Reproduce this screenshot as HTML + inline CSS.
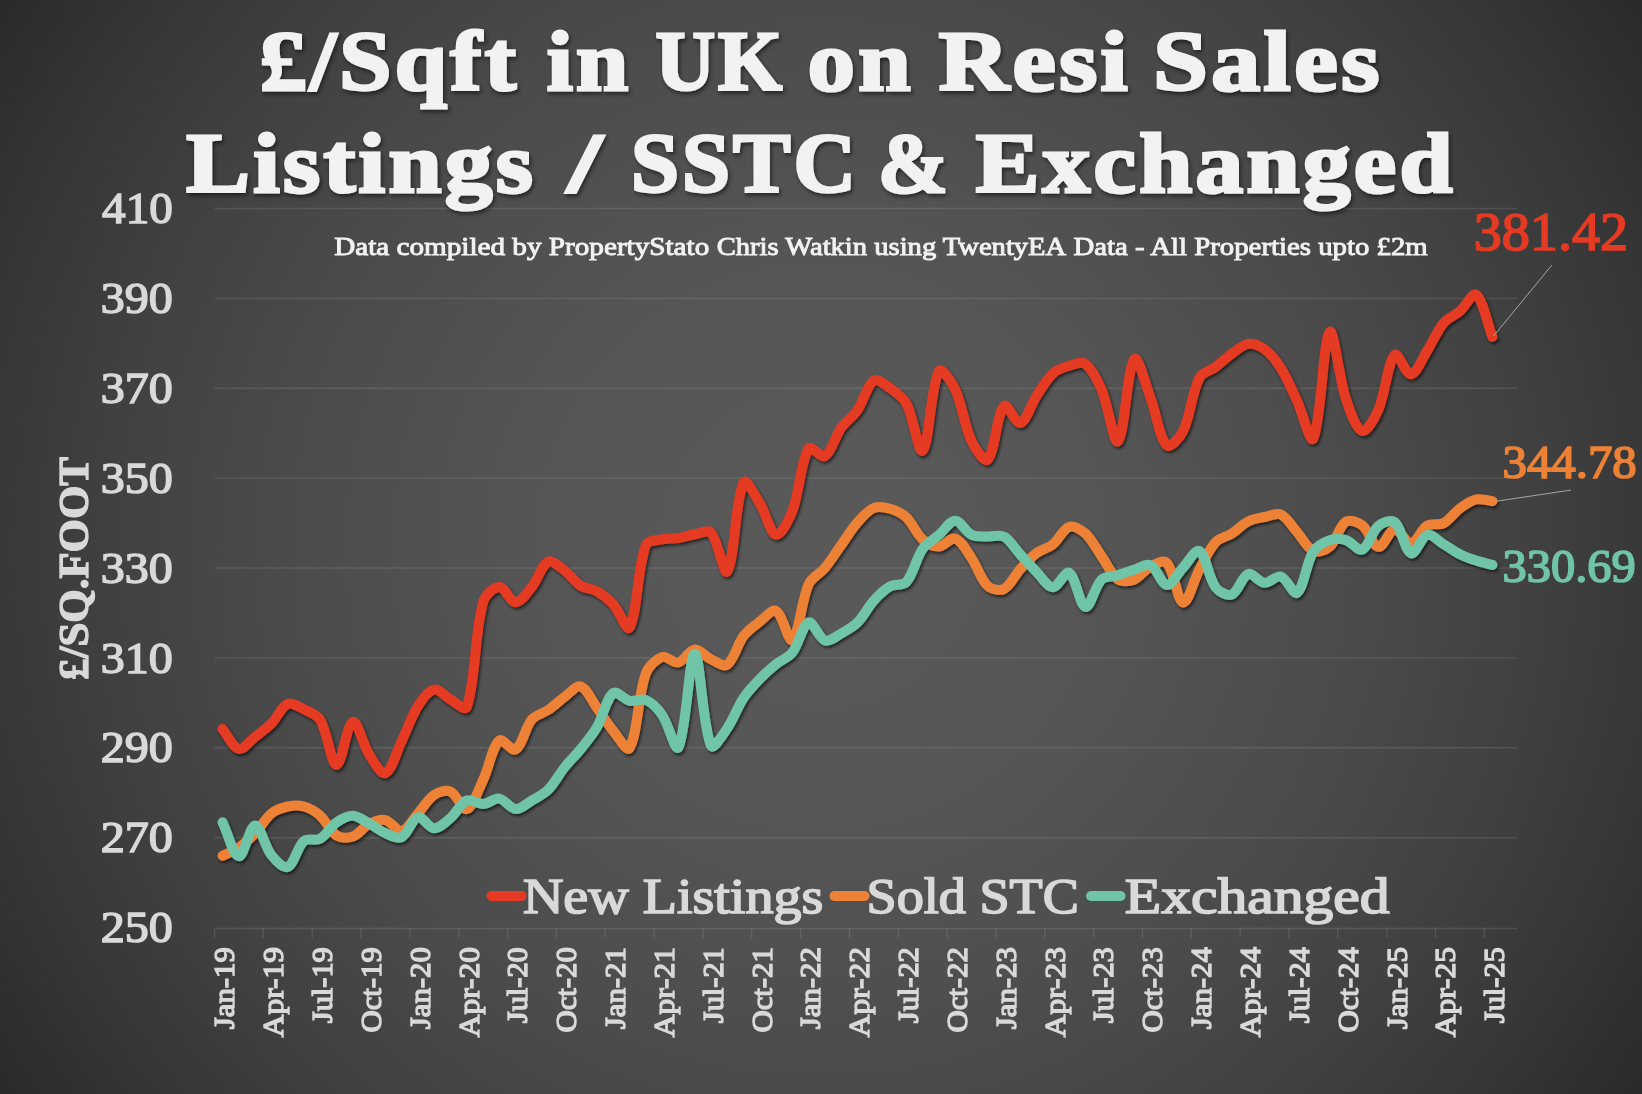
<!DOCTYPE html>
<html lang="en"><head><meta charset="utf-8"><title>£/Sqft in UK on Resi Sales</title>
<style>
html,body{margin:0;padding:0;background:#2a2a2a;}
body{width:1642px;height:1094px;overflow:hidden;font-family:"Liberation Serif",serif;}
svg{display:block;}
text{font-family:"Liberation Serif",serif;}
svg{opacity:0.9999;}
.ttl{font-weight:bold;fill:#F2F2F2;stroke:#F2F2F2;stroke-width:3px;stroke-linejoin:miter;stroke-miterlimit:2.5;letter-spacing:3px;filter:url(#tsh);}
.sub{fill:#F2F2F2;stroke:#F2F2F2;stroke-width:0.9px;}
.yl{fill:#D9D9D9;stroke:#D9D9D9;stroke-width:1.5px;}
.dl{stroke-width:1.7px;}
.xl{fill:#D9D9D9;font-size:30px;text-anchor:end;stroke:#D9D9D9;stroke-width:1.4px;}
.lg{fill:#D9D9D9;stroke:#D9D9D9;stroke-width:1.7px;}
.ln{fill:none;stroke-width:10.0;stroke-linecap:round;stroke-linejoin:round;}
</style></head><body>
<svg width="1642" height="1094" viewBox="0 0 1642 1094">
<defs>
<radialGradient id="bg" gradientUnits="userSpaceOnUse" cx="821" cy="547" r="986.5">
<stop offset="0.00" stop-color="rgb(89,89,89)"/>
<stop offset="0.10" stop-color="rgb(89,89,89)"/>
<stop offset="0.20" stop-color="rgb(87,87,87)"/>
<stop offset="0.30" stop-color="rgb(85,85,85)"/>
<stop offset="0.40" stop-color="rgb(81,81,81)"/>
<stop offset="0.50" stop-color="rgb(77,77,77)"/>
<stop offset="0.60" stop-color="rgb(72,72,72)"/>
<stop offset="0.70" stop-color="rgb(66,66,66)"/>
<stop offset="0.80" stop-color="rgb(59,59,59)"/>
<stop offset="0.90" stop-color="rgb(51,51,51)"/>
<stop offset="1.00" stop-color="rgb(42,42,42)"/>
</radialGradient>
<filter id="sh" x="-5%" y="-5%" width="110%" height="115%"><feDropShadow dx="1.5" dy="2.2" stdDeviation="1.6" flood-color="#000" flood-opacity="0.6"/></filter>
<filter id="tsh" x="-5%" y="-20%" width="110%" height="150%"><feDropShadow dx="1.5" dy="2.5" stdDeviation="2" flood-color="#000" flood-opacity="0.55"/></filter>
</defs>
<rect x="0" y="0" width="1642" height="1094" fill="url(#bg)"/>
<g stroke="#ffffff" stroke-opacity="0.10" stroke-width="1.4" fill="none">
<line x1="214.5" y1="208.5" x2="1517.5" y2="208.5"/>
<line x1="214.5" y1="298.4" x2="1517.5" y2="298.4"/>
<line x1="214.5" y1="388.3" x2="1517.5" y2="388.3"/>
<line x1="214.5" y1="478.1" x2="1517.5" y2="478.1"/>
<line x1="214.5" y1="568.0" x2="1517.5" y2="568.0"/>
<line x1="214.5" y1="657.9" x2="1517.5" y2="657.9"/>
<line x1="214.5" y1="747.8" x2="1517.5" y2="747.8"/>
<line x1="214.5" y1="837.7" x2="1517.5" y2="837.7"/>
</g>
<g stroke="#ffffff" stroke-opacity="0.11" stroke-width="1.4" fill="none">
<line x1="214.5" y1="928.5" x2="1517.5" y2="928.5"/>
<line x1="214.5" y1="928.5" x2="214.5" y2="937.8"/>
<line x1="263.3" y1="928.5" x2="263.3" y2="937.8"/>
<line x1="312.2" y1="928.5" x2="312.2" y2="937.8"/>
<line x1="361.0" y1="928.5" x2="361.0" y2="937.8"/>
<line x1="409.9" y1="928.5" x2="409.9" y2="937.8"/>
<line x1="458.7" y1="928.5" x2="458.7" y2="937.8"/>
<line x1="507.5" y1="928.5" x2="507.5" y2="937.8"/>
<line x1="556.4" y1="928.5" x2="556.4" y2="937.8"/>
<line x1="605.2" y1="928.5" x2="605.2" y2="937.8"/>
<line x1="654.1" y1="928.5" x2="654.1" y2="937.8"/>
<line x1="702.9" y1="928.5" x2="702.9" y2="937.8"/>
<line x1="751.7" y1="928.5" x2="751.7" y2="937.8"/>
<line x1="800.6" y1="928.5" x2="800.6" y2="937.8"/>
<line x1="849.4" y1="928.5" x2="849.4" y2="937.8"/>
<line x1="898.3" y1="928.5" x2="898.3" y2="937.8"/>
<line x1="947.1" y1="928.5" x2="947.1" y2="937.8"/>
<line x1="995.9" y1="928.5" x2="995.9" y2="937.8"/>
<line x1="1044.8" y1="928.5" x2="1044.8" y2="937.8"/>
<line x1="1093.6" y1="928.5" x2="1093.6" y2="937.8"/>
<line x1="1142.5" y1="928.5" x2="1142.5" y2="937.8"/>
<line x1="1191.3" y1="928.5" x2="1191.3" y2="937.8"/>
<line x1="1240.1" y1="928.5" x2="1240.1" y2="937.8"/>
<line x1="1289.0" y1="928.5" x2="1289.0" y2="937.8"/>
<line x1="1337.8" y1="928.5" x2="1337.8" y2="937.8"/>
<line x1="1386.7" y1="928.5" x2="1386.7" y2="937.8"/>
<line x1="1435.5" y1="928.5" x2="1435.5" y2="937.8"/>
<line x1="1484.3" y1="928.5" x2="1484.3" y2="937.8"/>
</g>
<text class="ttl" x="259.85" y="90.10" font-size="85.5" textLength="259.31" lengthAdjust="spacingAndGlyphs">£/Sqft</text>
<text class="ttl" x="546.76" y="90.10" font-size="85.5" textLength="84.81" lengthAdjust="spacingAndGlyphs">in</text>
<text class="ttl" x="655.53" y="90.10" font-size="85.5" textLength="129.42" lengthAdjust="spacingAndGlyphs">UK</text>
<text class="ttl" x="807.85" y="90.10" font-size="85.5" textLength="105.95" lengthAdjust="spacingAndGlyphs">on</text>
<text class="ttl" x="938.72" y="90.10" font-size="85.5" textLength="192.28" lengthAdjust="spacingAndGlyphs">Resi</text>
<text class="ttl" x="1153.33" y="90.10" font-size="85.5" textLength="229.36" lengthAdjust="spacingAndGlyphs">Sales</text>
<text class="ttl" x="186.38" y="192.10" font-size="85.5" textLength="349.74" lengthAdjust="spacingAndGlyphs">Listings</text>
<text class="ttl" x="567.46" y="192.10" font-size="85.5" textLength="38.84" lengthAdjust="spacingAndGlyphs">/</text>
<text class="ttl" x="630.92" y="192.10" font-size="85.5" textLength="227.94" lengthAdjust="spacingAndGlyphs">SSTC</text>
<text class="ttl" x="877.90" y="192.10" font-size="85.5" textLength="72.89" lengthAdjust="spacingAndGlyphs">&amp;</text>
<text class="ttl" x="975.71" y="192.10" font-size="85.5" textLength="480.10" lengthAdjust="spacingAndGlyphs">Exchanged</text>
<text class="sub" x="334.16" y="255.00" font-size="24.5" textLength="375.10" lengthAdjust="spacingAndGlyphs">Data compiled by PropertyStato</text>
<text class="sub" x="716.69" y="255.00" font-size="24.5" textLength="349.54" lengthAdjust="spacingAndGlyphs">Chris Watkin using TwentyEA</text>
<text class="sub" x="1073.51" y="255.00" font-size="24.5" textLength="354.23" lengthAdjust="spacingAndGlyphs">Data - All Properties upto £2m</text>
<text class="yl" x="102.12" y="223.10" font-size="45" textLength="70.70" lengthAdjust="spacingAndGlyphs">410</text>
<text class="yl" x="100.65" y="312.98" font-size="45" textLength="72.14" lengthAdjust="spacingAndGlyphs">390</text>
<text class="yl" x="100.65" y="402.86" font-size="45" textLength="72.14" lengthAdjust="spacingAndGlyphs">370</text>
<text class="yl" x="100.65" y="492.74" font-size="45" textLength="72.14" lengthAdjust="spacingAndGlyphs">350</text>
<text class="yl" x="100.65" y="582.62" font-size="45" textLength="72.14" lengthAdjust="spacingAndGlyphs">330</text>
<text class="yl" x="100.65" y="672.50" font-size="45" textLength="72.14" lengthAdjust="spacingAndGlyphs">310</text>
<text class="yl" x="100.67" y="762.38" font-size="45" textLength="72.18" lengthAdjust="spacingAndGlyphs">290</text>
<text class="yl" x="100.67" y="852.26" font-size="45" textLength="72.18" lengthAdjust="spacingAndGlyphs">270</text>
<text class="yl" x="100.67" y="942.14" font-size="45" textLength="72.18" lengthAdjust="spacingAndGlyphs">250</text>
<text class="dl" x="1473.72" y="250.00" font-size="54" textLength="154.37" lengthAdjust="spacingAndGlyphs" fill="#E53A23" stroke="#E53A23">381.42</text>
<text class="dl" x="1502.49" y="477.50" font-size="47" textLength="134.29" lengthAdjust="spacingAndGlyphs" fill="#ED8136" stroke="#ED8136">344.78</text>
<text class="dl" x="1502.61" y="582.20" font-size="47" textLength="132.98" lengthAdjust="spacingAndGlyphs" fill="#70C4A7" stroke="#70C4A7">330.69</text>
<text class="lg" x="522.91" y="913.10" font-size="51.5" textLength="300.32" lengthAdjust="spacingAndGlyphs">New Listings</text>
<text class="lg" x="866.51" y="913.10" font-size="51.5" textLength="212.28" lengthAdjust="spacingAndGlyphs">Sold STC</text>
<text class="lg" x="1124.76" y="913.10" font-size="51.5" textLength="264.91" lengthAdjust="spacingAndGlyphs">Exchanged</text>
<text transform="translate(88,680) rotate(-90)" font-size="41.5" font-weight="bold" fill="#D9D9D9" stroke="#D9D9D9" stroke-width="1.3" textLength="223" lengthAdjust="spacingAndGlyphs">£/SQ.FOOT</text>
<text class="xl" transform="translate(234.3,947.2) rotate(-90)" textLength="82.0" lengthAdjust="spacingAndGlyphs">Jan-19</text>
<text class="xl" transform="translate(283.1,947.2) rotate(-90)" textLength="90.0" lengthAdjust="spacingAndGlyphs">Apr-19</text>
<text class="xl" transform="translate(332.0,947.2) rotate(-90)" textLength="76.0" lengthAdjust="spacingAndGlyphs">Jul-19</text>
<text class="xl" transform="translate(380.8,947.2) rotate(-90)" textLength="85.3" lengthAdjust="spacingAndGlyphs">Oct-19</text>
<text class="xl" transform="translate(429.7,947.2) rotate(-90)" textLength="82.0" lengthAdjust="spacingAndGlyphs">Jan-20</text>
<text class="xl" transform="translate(478.5,947.2) rotate(-90)" textLength="90.0" lengthAdjust="spacingAndGlyphs">Apr-20</text>
<text class="xl" transform="translate(527.3,947.2) rotate(-90)" textLength="76.0" lengthAdjust="spacingAndGlyphs">Jul-20</text>
<text class="xl" transform="translate(576.2,947.2) rotate(-90)" textLength="85.3" lengthAdjust="spacingAndGlyphs">Oct-20</text>
<text class="xl" transform="translate(625.0,947.2) rotate(-90)" textLength="82.0" lengthAdjust="spacingAndGlyphs">Jan-21</text>
<text class="xl" transform="translate(673.9,947.2) rotate(-90)" textLength="90.0" lengthAdjust="spacingAndGlyphs">Apr-21</text>
<text class="xl" transform="translate(722.7,947.2) rotate(-90)" textLength="76.0" lengthAdjust="spacingAndGlyphs">Jul-21</text>
<text class="xl" transform="translate(771.5,947.2) rotate(-90)" textLength="85.3" lengthAdjust="spacingAndGlyphs">Oct-21</text>
<text class="xl" transform="translate(820.4,947.2) rotate(-90)" textLength="82.0" lengthAdjust="spacingAndGlyphs">Jan-22</text>
<text class="xl" transform="translate(869.2,947.2) rotate(-90)" textLength="90.0" lengthAdjust="spacingAndGlyphs">Apr-22</text>
<text class="xl" transform="translate(918.1,947.2) rotate(-90)" textLength="76.0" lengthAdjust="spacingAndGlyphs">Jul-22</text>
<text class="xl" transform="translate(966.9,947.2) rotate(-90)" textLength="85.3" lengthAdjust="spacingAndGlyphs">Oct-22</text>
<text class="xl" transform="translate(1015.7,947.2) rotate(-90)" textLength="82.0" lengthAdjust="spacingAndGlyphs">Jan-23</text>
<text class="xl" transform="translate(1064.6,947.2) rotate(-90)" textLength="90.0" lengthAdjust="spacingAndGlyphs">Apr-23</text>
<text class="xl" transform="translate(1113.4,947.2) rotate(-90)" textLength="76.0" lengthAdjust="spacingAndGlyphs">Jul-23</text>
<text class="xl" transform="translate(1162.3,947.2) rotate(-90)" textLength="85.3" lengthAdjust="spacingAndGlyphs">Oct-23</text>
<text class="xl" transform="translate(1211.1,947.2) rotate(-90)" textLength="82.0" lengthAdjust="spacingAndGlyphs">Jan-24</text>
<text class="xl" transform="translate(1259.9,947.2) rotate(-90)" textLength="90.0" lengthAdjust="spacingAndGlyphs">Apr-24</text>
<text class="xl" transform="translate(1308.8,947.2) rotate(-90)" textLength="76.0" lengthAdjust="spacingAndGlyphs">Jul-24</text>
<text class="xl" transform="translate(1357.6,947.2) rotate(-90)" textLength="85.3" lengthAdjust="spacingAndGlyphs">Oct-24</text>
<text class="xl" transform="translate(1406.5,947.2) rotate(-90)" textLength="82.0" lengthAdjust="spacingAndGlyphs">Jan-25</text>
<text class="xl" transform="translate(1455.3,947.2) rotate(-90)" textLength="90.0" lengthAdjust="spacingAndGlyphs">Apr-25</text>
<text class="xl" transform="translate(1504.1,947.2) rotate(-90)" textLength="76.0" lengthAdjust="spacingAndGlyphs">Jul-25</text>
<g filter="url(#sh)">
<path class="ln" stroke="#E53A23" d="M222.60,729.10C228.03,735.73 232.82,747.57 238.88,749.00C243.67,750.13 249.81,740.97 255.16,736.80C260.67,732.50 266.55,728.54 271.44,723.60C277.40,717.57 281.23,706.75 287.72,703.90C292.08,701.99 298.92,706.79 304.00,709.30C309.77,712.15 317.14,714.63 320.28,720.00C327.99,733.19 331.04,764.69 336.56,765.00C341.89,765.29 346.77,723.80 352.84,721.80C357.62,720.23 362.68,744.14 369.12,754.30C373.54,761.27 380.96,775.00 385.40,773.20C391.81,770.60 396.44,751.89 401.68,741.10C407.30,729.53 411.18,716.83 417.96,706.10C422.03,699.66 428.28,690.81 434.24,689.60C439.14,688.61 444.93,696.51 450.52,699.50C455.78,702.31 465.23,711.69 466.80,707.00C476.08,679.26 474.12,635.27 483.08,602.20C484.97,595.23 493.93,586.90 499.36,586.90C504.79,586.90 510.21,602.20 515.64,602.20C521.07,602.20 527.29,592.66 531.92,586.90C538.14,579.16 541.48,565.11 548.20,561.70C552.33,559.61 559.58,566.77 564.48,570.40C570.43,574.80 574.62,581.86 580.76,585.80C585.47,588.82 592.14,588.50 597.04,591.30C603.00,594.70 608.71,599.27 613.32,604.40C619.56,611.34 626.87,632.47 629.60,627.50C637.72,612.74 636.88,569.57 645.88,545.20C647.74,540.17 656.57,540.54 662.16,539.30C667.43,538.14 673.07,538.82 678.44,538.00C683.93,537.16 689.24,535.19 694.72,534.30C700.09,533.43 707.96,529.23 711.00,532.70C718.82,541.63 723.83,576.81 727.28,571.50C734.69,560.08 735.16,500.06 743.56,482.50C746.02,477.36 755.19,495.94 759.84,503.40C766.04,513.34 770.13,533.28 776.12,534.70C780.99,535.85 789.06,519.92 792.40,511.10C799.92,491.22 800.19,462.92 808.68,448.60C811.04,444.62 821.12,458.66 824.96,456.20C831.97,451.70 834.96,436.57 841.24,427.70C845.81,421.24 853.02,416.71 857.52,410.20C863.88,401.01 866.71,385.39 873.80,380.60C877.57,378.05 885.25,384.79 890.08,388.20C896.10,392.46 902.99,397.14 906.36,403.60C913.85,417.97 918.52,454.83 922.64,450.70C929.37,443.96 930.59,386.66 938.92,371.00C941.44,366.26 951.80,382.19 955.20,389.50C962.65,405.52 964.03,424.98 971.48,441.00C974.88,448.31 984.44,463.07 987.76,459.50C995.29,451.40 996.40,414.56 1004.04,406.00C1007.26,402.40 1015.68,424.42 1020.32,423.00C1026.53,421.09 1030.83,404.77 1036.60,396.00C1041.68,388.27 1046.30,379.61 1052.88,373.50C1057.15,369.54 1063.48,367.46 1069.16,365.80C1074.33,364.29 1081.66,361.20 1085.44,364.00C1092.51,369.23 1097.80,380.57 1101.72,389.90C1108.65,406.37 1113.75,445.41 1118.00,441.40C1124.60,435.18 1127.05,368.83 1134.28,359.20C1137.91,354.36 1145.61,384.88 1150.56,398.00C1156.47,413.65 1159.27,437.83 1166.84,445.50C1170.13,448.83 1180.06,437.35 1183.12,431.00C1190.91,414.82 1191.38,393.68 1199.40,377.90C1202.24,372.32 1210.43,370.80 1215.68,366.90C1221.28,362.74 1226.27,357.72 1231.96,353.70C1237.12,350.05 1242.54,344.67 1248.24,343.90C1253.39,343.20 1260.08,346.02 1264.52,349.30C1270.94,354.05 1276.42,361.07 1280.80,368.00C1287.27,378.24 1291.96,389.72 1297.08,400.80C1302.82,413.22 1310.36,444.83 1313.36,438.50C1321.22,421.90 1323.02,340.05 1329.64,332.00C1333.87,326.85 1338.79,377.23 1345.92,398.90C1349.65,410.23 1356.00,428.98 1362.20,431.00C1366.85,432.51 1374.99,417.65 1378.48,409.50C1385.84,392.31 1387.24,363.13 1394.76,355.00C1398.10,351.39 1405.97,375.00 1411.04,374.30C1416.83,373.50 1422.17,358.61 1427.32,350.50C1433.03,341.51 1436.94,331.04 1443.60,323.00C1447.79,317.94 1454.84,315.58 1459.88,311.20C1465.69,306.15 1472.48,291.80 1476.16,294.70C1483.34,300.36 1487.01,322.83 1492.44,336.90"/>
<path class="ln" stroke="#ED8136" d="M222.60,855.80C228.03,853.03 233.91,850.95 238.88,847.50C244.77,843.41 250.18,838.40 255.16,833.20C261.03,827.07 265.03,818.76 271.44,813.50C275.88,809.86 282.06,807.72 287.72,806.50C292.92,805.38 298.95,805.07 304.00,806.50C309.80,808.14 315.70,811.62 320.28,815.70C326.56,821.29 329.93,831.26 336.56,835.50C340.78,838.20 348.03,838.20 352.84,836.50C358.89,834.36 363.14,827.01 369.12,824.00C374.00,821.54 380.40,819.02 385.40,820.10C391.25,821.36 396.79,831.99 401.68,831.00C407.64,829.79 412.62,819.42 417.96,813.50C423.48,807.38 427.75,799.27 434.24,794.90C438.60,791.97 446.07,789.66 450.52,791.60C456.92,794.39 462.27,810.71 466.80,809.10C473.12,806.85 478.32,790.02 483.08,780.00C489.18,767.16 491.80,747.58 499.36,740.50C502.65,737.42 511.82,751.98 515.64,749.50C522.67,744.94 524.91,727.90 531.92,719.40C535.77,714.73 543.05,713.54 548.20,710.00C553.91,706.08 558.86,701.06 564.48,697.00C569.71,693.23 576.22,684.97 580.76,686.50C587.08,688.63 591.73,700.75 597.04,708.00C602.59,715.58 607.41,723.74 613.32,731.00C618.26,737.07 627.04,752.52 629.60,748.00C637.89,733.35 637.55,696.75 645.88,673.50C648.40,666.45 655.93,659.20 662.16,657.10C666.78,655.54 673.55,663.66 678.44,662.50C684.40,661.09 689.04,649.96 694.72,649.40C699.90,648.89 705.29,656.62 711.00,659.30C716.14,661.72 723.57,667.36 727.28,664.70C734.42,659.59 737.02,644.67 743.56,636.00C747.88,630.27 754.09,625.91 759.84,621.50C764.95,617.58 772.13,608.72 776.12,611.00C782.98,614.92 788.45,643.35 792.40,640.10C799.30,634.42 800.90,601.44 808.68,584.20C811.76,577.38 820.07,573.79 824.96,567.90C830.92,560.72 835.79,552.62 841.24,545.00C846.64,537.45 851.42,529.33 857.52,522.40C862.28,516.99 867.60,510.61 873.80,508.00C878.45,506.04 884.99,507.23 890.08,508.70C895.84,510.36 901.99,513.28 906.36,517.40C912.84,523.51 916.06,533.52 922.64,539.40C926.91,543.22 933.54,546.63 938.92,546.50C944.40,546.37 950.68,537.00 955.20,538.60C961.53,540.84 966.72,551.07 971.48,558.00C977.57,566.87 980.58,579.16 987.76,586.00C991.43,589.50 999.78,591.20 1004.04,589.00C1010.63,585.60 1014.60,575.53 1020.32,569.20C1025.45,563.53 1030.58,557.59 1036.60,553.00C1041.43,549.32 1048.16,548.19 1052.88,544.40C1059.01,539.49 1062.90,528.99 1069.16,526.90C1073.76,525.36 1081.27,529.71 1085.44,533.50C1092.13,539.58 1096.29,548.83 1101.72,556.50C1107.15,564.17 1111.12,574.64 1118.00,579.50C1121.97,582.31 1129.52,581.40 1134.28,579.50C1140.37,577.07 1144.53,569.59 1150.56,566.50C1155.39,564.02 1163.80,559.44 1166.84,562.80C1174.65,571.44 1177.27,601.28 1183.12,602.50C1188.12,603.55 1193.59,580.36 1199.40,569.60C1204.44,560.26 1208.81,549.82 1215.68,542.20C1219.66,537.79 1226.79,536.80 1231.96,533.50C1237.64,529.87 1242.31,524.40 1248.24,521.40C1253.17,518.90 1259.03,518.16 1264.52,517.00C1269.88,515.86 1276.37,512.46 1280.80,514.50C1287.23,517.46 1291.78,526.06 1297.08,532.00C1302.63,538.22 1306.86,548.03 1313.36,551.00C1317.72,552.99 1325.75,550.40 1329.64,546.90C1336.60,540.64 1338.94,526.33 1345.92,521.70C1349.80,519.13 1358.06,522.10 1362.20,525.30C1368.91,530.50 1372.71,546.16 1378.48,546.90C1383.56,547.56 1389.03,530.13 1394.76,529.50C1399.89,528.93 1405.95,543.93 1411.04,543.30C1416.80,542.59 1420.87,529.48 1427.32,525.50C1431.72,522.78 1438.95,525.63 1443.60,523.20C1449.80,519.96 1454.01,512.79 1459.88,508.50C1464.87,504.85 1470.38,500.70 1476.16,499.40C1481.23,498.26 1487.01,500.60 1492.44,501.20"/>
<path class="ln" stroke="#70C4A7" d="M222.60,822.30C228.03,833.63 233.24,855.75 238.88,856.30C244.09,856.81 249.66,825.69 255.16,825.50C260.51,825.32 264.63,846.52 271.44,855.20C275.48,860.35 283.43,868.88 287.72,867.00C294.28,864.12 296.93,847.05 304.00,840.90C307.78,837.62 315.77,841.28 320.28,838.70C326.62,835.08 330.39,826.66 336.56,822.30C341.25,818.99 347.48,815.52 352.84,815.70C358.33,815.89 363.84,820.56 369.12,823.40C374.69,826.39 379.63,830.76 385.40,833.20C390.49,835.36 397.40,839.30 401.68,837.20C408.26,833.97 411.81,818.88 417.96,817.20C422.66,815.92 428.75,828.17 434.24,828.30C439.61,828.43 445.68,822.14 450.52,818.00C456.54,812.84 460.40,803.15 466.80,800.40C471.25,798.49 477.73,804.30 483.08,804.00C488.58,803.70 494.26,797.80 499.36,798.60C505.12,799.50 510.08,808.79 515.64,809.10C520.94,809.39 526.63,803.53 531.92,800.40C537.49,797.10 543.72,794.33 548.20,789.80C554.57,783.36 558.75,774.69 564.48,767.50C569.60,761.09 575.62,755.40 580.76,749.00C586.47,741.90 592.47,734.85 597.04,727.00C603.33,716.19 605.98,698.91 613.32,693.00C616.83,690.17 623.90,699.57 629.60,700.80C634.75,701.91 641.28,697.99 645.88,700.00C652.13,702.73 658.04,709.01 662.16,715.00C668.89,724.78 675.45,752.93 678.44,747.30C686.30,732.53 689.25,654.07 694.72,653.80C700.10,653.54 702.36,725.96 711.00,745.70C713.21,750.76 722.82,734.73 727.28,728.20C733.68,718.83 737.28,707.48 743.56,698.00C748.14,691.08 754.06,685.00 759.84,679.00C764.92,673.73 770.44,668.82 776.12,664.20C781.29,659.99 788.38,657.64 792.40,652.50C799.24,643.74 802.34,624.84 808.68,622.50C813.19,620.84 818.69,638.38 824.96,640.50C829.54,642.05 836.09,636.35 841.24,633.50C846.95,630.35 852.98,627.09 857.52,622.50C863.83,616.12 867.74,607.32 873.80,600.60C878.60,595.28 883.98,589.88 890.08,586.40C894.84,583.68 902.95,585.92 906.36,582.00C913.80,573.45 915.79,558.89 922.64,549.00C926.64,543.23 933.52,539.70 938.92,535.00C944.37,530.26 949.75,520.75 955.20,520.70C960.60,520.65 965.32,531.71 971.48,534.70C976.18,536.98 982.32,536.17 987.76,536.50C993.17,536.83 999.67,534.28 1004.04,536.70C1010.52,540.28 1014.87,548.59 1020.32,554.50C1025.72,560.36 1030.98,566.36 1036.60,572.00C1041.84,577.26 1047.38,587.05 1052.88,587.20C1058.23,587.35 1065.20,570.50 1069.16,572.90C1076.05,577.07 1079.56,605.71 1085.44,606.90C1090.41,607.91 1094.62,586.43 1101.72,579.50C1105.48,575.83 1112.62,576.73 1118.00,575.10C1123.48,573.43 1128.80,571.25 1134.28,569.60C1139.65,567.98 1146.25,563.26 1150.56,565.30C1157.10,568.39 1161.23,584.62 1166.84,585.00C1172.09,585.35 1177.61,573.25 1183.12,567.50C1188.46,561.92 1195.42,548.55 1199.40,551.00C1206.27,555.22 1208.16,577.45 1215.68,587.50C1219.01,591.95 1227.58,596.32 1231.96,594.50C1238.43,591.82 1241.88,576.28 1248.24,574.00C1252.73,572.38 1258.93,582.37 1264.52,582.80C1269.79,583.20 1276.11,575.07 1280.80,576.50C1286.97,578.37 1293.37,595.55 1297.08,592.70C1304.23,587.21 1305.87,563.60 1313.36,551.50C1316.72,546.07 1323.67,542.19 1329.64,540.10C1334.53,538.39 1340.89,538.63 1345.92,540.10C1351.74,541.80 1357.90,551.47 1362.20,549.60C1368.76,546.74 1371.61,531.68 1378.48,525.90C1382.47,522.54 1391.26,519.26 1394.76,522.20C1402.12,528.39 1404.65,550.79 1411.04,553.30C1415.50,555.05 1421.17,536.72 1427.32,535.00C1432.02,533.69 1438.23,541.03 1443.60,544.20C1449.08,547.43 1454.21,551.35 1459.88,554.20C1465.07,556.81 1470.63,558.78 1476.16,560.60C1481.48,562.35 1487.01,563.47 1492.44,564.90"/>
</g>
<g stroke="#a6a6a6" stroke-width="1" fill="none">
<line x1="1493.6" y1="336" x2="1551.8" y2="265.2"/>
<line x1="1494.3" y1="501.5" x2="1571" y2="490.1"/>
</g>
<g stroke-width="10" stroke-linecap="round" fill="none">
<line x1="491.5" y1="896" x2="521.5" y2="896" stroke="#E53A23"/>
<line x1="834.5" y1="896" x2="864.5" y2="896" stroke="#ED8136"/>
<line x1="1091" y1="896" x2="1120.5" y2="896" stroke="#70C4A7"/>
</g>
</svg>
</body></html>
